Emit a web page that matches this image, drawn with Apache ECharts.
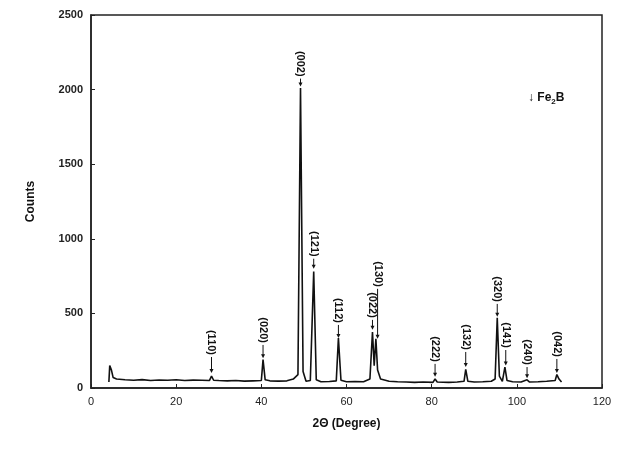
<!DOCTYPE html>
<html><head><meta charset="utf-8">
<script src="https://cdn.jsdelivr.net/npm/echarts@6/dist/echarts.min.js"></script>
<style>html,body{margin:0;background:#fff}#c{width:631px;height:449px}</style>
</head><body><div id="c"></div>
<script>
// XRD pattern: [2theta, counts]
var pattern = [
  [4.2,40],[4.4,150],[4.8,120],[5.2,70],[6,60],[8,55],[10,52],[12,56],[14,50],[16,54],[18,52],[20,55],
  [22,50],[24,53],[26,52],[27.8,50],[28.3,80],[28.8,52],[30,50],[32,48],[34,50],[36,46],[38,48],
  [40,50],[40.4,190],[40.9,55],[42,48],[44,46],[46,48],[47.5,60],[48.6,90],[49.2,2010],[49.8,110],
  [50.5,45],[51.5,50],[52.3,780],[52.9,55],[54,42],[56,44],[57.6,48],[58.1,335],[58.7,52],[60,42],
  [62,44],[64,42],[65.5,60],[66.1,375],[66.5,150],[66.9,330],[67.3,120],[68,60],[70,45],[72,42],
  [74,40],[76,38],[78,40],[80.3,38],[80.8,60],[81.3,40],[84,38],[86,40],[87.6,45],[88,125],[88.5,45],
  [90,40],[92,42],[94,45],[94.9,60],[95.4,470],[95.9,80],[96.6,45],[97.2,140],[97.7,50],[99,42],
  [101,40],[102.4,55],[103,40],[105,42],[107,45],[109,50],[109.4,90],[109.9,60],[110.5,40]
];
var planes = ['(110)','(020)','(002)','(121)','(112)','(022)','(130)','(222)','(132)','(320)','(141)','(240)','(042)'];
var planeX = [28.3,40.4,49.2,52.3,58.1,66.1,67.3,80.8,88.0,95.4,97.4,102.4,109.4];
var labelBottom = [221,302,2087,880,436,470,678,175,255,577,268,154,208];
var arrowTip = [100,200,2020,800,335,390,330,75,140,478,150,65,100];

var annot = planes.map(function(p, i){ return [planeX[i], labelBottom[i], arrowTip[i], p]; });

var chart = echarts.init(document.getElementById('c'));
chart.setOption({
  animation:false,
  grid:{left:91,right:29,top:15,bottom:61,show:true,borderColor:'#222',borderWidth:1.5},
  xAxis:{type:'value',min:0,max:120,interval:20,
    name:'2\u0398 (Degree)',nameLocation:'middle',nameGap:30,
    nameTextStyle:{fontFamily:'Liberation Sans',fontWeight:'bold',fontSize:12,color:'#111'},
    axisLine:{lineStyle:{color:'#222',width:1.5}},axisTick:{inside:true,length:4,lineStyle:{color:'#222'}},
    axisLabel:{fontFamily:'Liberation Sans',fontSize:11,color:'#222',formatter:function(v){return String(v);}},splitLine:{show:false}},
  yAxis:{type:'value',min:0,max:2500,interval:500,
    name:'Counts',nameLocation:'middle',nameGap:54,
    nameTextStyle:{fontFamily:'Liberation Sans',fontWeight:'bold',fontSize:12,color:'#111'},
    axisLine:{show:true,lineStyle:{color:'#222',width:1.5}},axisTick:{inside:true,length:4,lineStyle:{color:'#222'}},
    axisLabel:{fontFamily:'Liberation Sans',fontSize:11,color:'#222',fontWeight:'bold',formatter:function(v){return String(v);}},splitLine:{show:false}},
  series:[
    {type:'line',data:pattern,symbol:'none',lineStyle:{color:'#111',width:1.6}},
    {type:'custom',data:annot,z:5,
      renderItem:function(params, api){
        var top = api.coord([api.value(0), api.value(1)]);
        var tip = api.coord([api.value(0), api.value(2)]);
        return {type:'group',children:[
          {type:'line',shape:{x1:top[0],y1:top[1]+2,x2:tip[0],y2:tip[1]-3},style:{stroke:'#111',lineWidth:1}},
          {type:'polygon',shape:{points:[[tip[0]-2,tip[1]-4],[tip[0]+2,tip[1]-4],[tip[0],tip[1]]]},style:{fill:'#111'}},
          {type:'text',x:top[0],y:top[1],rotation:-Math.PI/2,
            style:{text:planes[params.dataIndex],x:0,y:0,align:'right',verticalAlign:'middle',
              font:'bold 11px "Liberation Sans"',fill:'#111'}}
        ]};
      }}
  ],
  graphic:[{type:'text',left:528,top:92,
    style:{rich:{a:{font:'bold 12px "Liberation Sans"',fill:'#111'},s:{font:'bold 8px "Liberation Sans"',fill:'#111',padding:[8,0,0,0]}},
      text:'{a|\u2193 Fe}{s|2}{a|B}'}}]
});
</script></body></html>
